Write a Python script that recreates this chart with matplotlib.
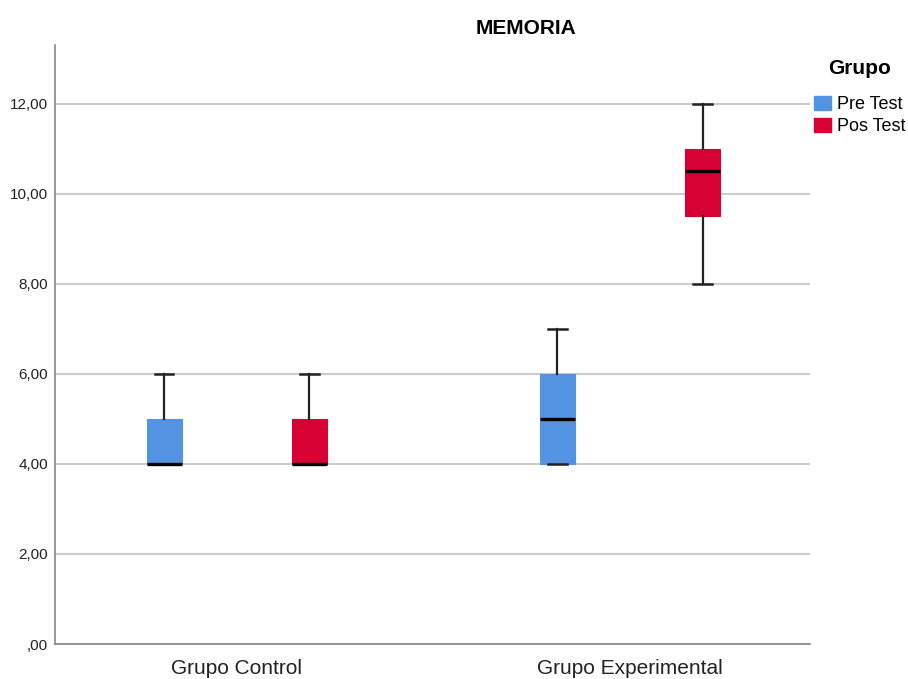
import matplotlib
matplotlib.use("Agg")
import matplotlib.pyplot as plt
from matplotlib.patches import Patch

plt.rcParams['font.family'] = ['Liberation Sans', 'DejaVu Sans']

groups = ["Grupo Control", "Grupo Experimental"]
series = ["Pre Test", "Pos Test"]
colors = ["#5294E2", "#D60032"]
# per group, per series: (whislo, q1, med, q3, whishi)
pre_stats = [(4, 4, 4, 5, 6), (4, 4, 5, 6, 7)]
pos_stats = [(4, 4, 4, 5, 6), (8, 9.5, 10.5, 11, 12)]
yticks = [0, 2, 4, 6, 8, 10, 12]

fig = plt.figure(figsize=(9.08, 6.79), dpi=100)
ax = fig.add_axes([55/908, 1-644/679, (810-55)/908, (644-45)/679])

offset = 0.1845
width = 0.089
for si, (stats_list, col) in enumerate(zip([pre_stats, pos_stats], colors)):
    sign = -1 if si == 0 else 1
    stats = []
    positions = []
    for gi, s in enumerate(stats_list):
        stats.append(dict(whislo=s[0], q1=s[1], med=s[2], q3=s[3], whishi=s[4], fliers=[]))
        positions.append(gi + sign * offset)
    ax.bxp(stats, positions=positions, widths=width, patch_artist=True, showfliers=False,
           capwidths=0.046,
           boxprops=dict(facecolor=col, edgecolor=col, linewidth=0.8),
           whiskerprops=dict(color="#222222", linewidth=1.6),
           capprops=dict(color="#222222", linewidth=1.8),
           medianprops=dict(color="black", linewidth=2.4), zorder=3)

ax.set_xlim(-0.463, 1.458)
ax.set_ylim(0, 13.31)
ax.set_yticks(yticks)
ax.set_yticklabels([(f"{v:.2f}".replace(".", ",") if v != 0 else ",00") for v in yticks],
                   fontsize=11, color="#222222")
ax.set_xticks([0, 1])
ax.set_xticklabels(groups, fontsize=15, color="#222222")
ax.tick_params(axis="both", length=0)
ax.tick_params(axis="y", pad=5)
ax.tick_params(axis="x", pad=11)
ax.yaxis.grid(True, color="#cccccc", linewidth=1.5, zorder=0)
ax.set_axisbelow(True)
for sp in ["top", "right"]:
    ax.spines[sp].set_visible(False)
for sp in ["left", "bottom"]:
    ax.spines[sp].set_color("#888888")
    ax.spines[sp].set_linewidth(1.2)

fig.text(526/908, 1-28/679, "MEMORIA", fontsize=15, fontweight="bold", ha="center", va="center")
fig.text(860/908, 1-69/679, "Grupo", fontsize=15, fontweight="bold", ha="center", va="center")

handles = [Patch(facecolor=c, edgecolor=c, label=l) for c, l in zip(colors, series)]
leg = fig.legend(handles=handles, loc="upper left",
                 bbox_to_anchor=(814/908, 1-96/679), frameon=False, fontsize=13,
                 borderaxespad=0, borderpad=0,
                 handlelength=0.95, handleheight=0.85, handletextpad=0.3, labelspacing=0.25)

fig.savefig("out.png", dpi=100)
